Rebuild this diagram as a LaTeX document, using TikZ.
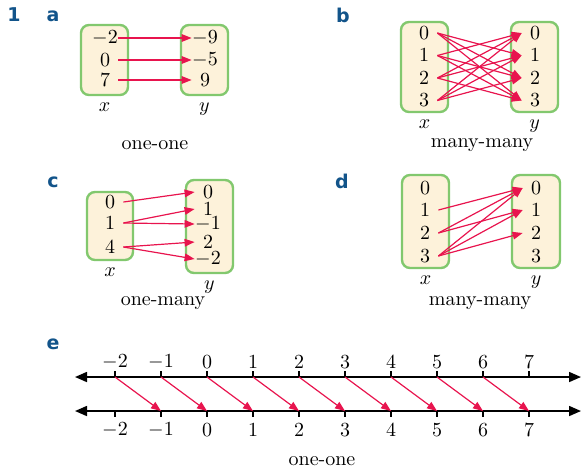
\documentclass[tikz,border=0pt]{standalone}
\usepackage{fontspec}
\newfontfamily\partfont{DejaVu Sans}
\usepackage{xcolor}
\definecolor{setfill}{RGB}{253,242,218}
\definecolor{setedge}{RGB}{130,200,110}
\definecolor{maparrow}{RGB}{232,20,78}
\definecolor{partblue}{RGB}{18,84,138}
\usetikzlibrary{arrows.meta, positioning}

\begin{document}
\begin{tikzpicture}[
    x=0.5pt, y=-0.5pt,
    every node/.style={align=center},
    setbox/.style={rectangle, draw=setedge, line width=1.2pt, rounded corners=4pt, fill=setfill, inner sep=0pt},
    entry/.style={inner sep=0pt, minimum width=13pt},
    part/.style={font=\partfont\bfseries\fontsize{9.5}{10}\selectfont, text=partblue},
    arrow/.style={-{Triangle[length=5pt, width=3.8pt]}, color=maparrow, line width=0.6pt},
    axis/.style={{Triangle[length=6pt, width=5pt]}-{Triangle[length=6pt, width=5pt]}, line width=0.8pt}
]
\useasboundingbox (0,0) rectangle (582,473);

% part labels
\node[part] (p1) at (14,15) {1};
\node[part] (pa) at (53,16) {a};
\node[part] (pb) at (343,15) {b};
\node[part] (pc) at (53,182) {c};
\node[part] (pd) at (342,181) {d};
\node[part] (pe) at (53,344) {e};

% a
\node[setbox, minimum width=23.5pt, minimum height=35pt] (ax) at (104.5,60) {};
\node[setbox, minimum width=23.5pt, minimum height=35pt] (ay) at (204.5,60) {};
\node[entry] (ax0) at (105,38) {$-2$};
\node[entry] (ax1) at (105,60) {$0$};
\node[entry] (ax2) at (105,80) {$7$};
\node[entry] (ay0) at (205,38) {$-9$};
\node[entry] (ay1) at (205,60) {$-5$};
\node[entry] (ay2) at (205,80) {$9$};
\node[below=0pt of ax] (axl) {$x$};
\node[below=0pt of ay] (ayl) {$y$};
\node (acap) at (155,145) {one-one};
\draw[arrow] (ax0) -- (ay0);
\draw[arrow] (ax1) -- (ay1);
\draw[arrow] (ax2) -- (ay2);

% b
\node[setbox, minimum width=23.5pt, minimum height=45pt] (bx) at (424.5,67) {};
\node[setbox, minimum width=23.5pt, minimum height=45pt] (by) at (534.5,67) {};
\foreach \v/\yy in {0/33,1/55.5,2/78,3/100.5} {
  \node[entry] (bx\v) at (424,\yy) {$\v$};
  \node[entry] (by\v) at (535,\yy) {$\v$};
}
\node[below=0pt of bx] (bxl) {$x$};
\node[below=0pt of by] (byl) {$y$};
\node (bcap) at (482,145) {many-many};
\foreach \i in {0,...,3}
  \foreach \j in {0,...,3} {
    \ifnum\i=\j\else \draw[arrow] (bx\i.east) -- (by\j.west); \fi
  }

% c
\node[setbox, minimum width=23pt, minimum height=34pt] (cx) at (110,226) {};
\node[setbox, minimum width=23.5pt, minimum height=46.5pt] (cy) at (209.5,226.5) {};
\node[entry] (cx0) at (110,202) {$0$};
\node[entry] (cx1) at (110,223) {$1$};
\node[entry] (cx4) at (110,247) {$4$};
\node[entry] (cy0) at (208,192) {$0$};
\node[entry] (cy1) at (208,209) {$1$};
\node[entry] (cym1) at (208,224) {$-1$};
\node[entry] (cy2) at (208,242) {$2$};
\node[entry] (cym2) at (208,259) {$-2$};
\node[below=0pt of cx] (cxl) {$x$};
\node[below=0pt of cy] (cyl) {$y$};
\node (ccap) at (163,303) {one-many};
\draw[arrow] (cx0.east) -- (cy0.west);
\draw[arrow] (cx1.east) -- (cy1.west);
\draw[arrow] (cx1.east) -- (cym1.west);
\draw[arrow] (cx4.east) -- (cy2.west);
\draw[arrow] (cx4.east) -- (cym2.west);

% d
\node[setbox, minimum width=23.5pt, minimum height=46.5pt] (dx) at (425.5,221.5) {};
\node[setbox, minimum width=24pt, minimum height=46.5pt] (dy) at (536,221.5) {};
\foreach \v/\yy in {0/188,1/210,2/233,3/256} {
  \node[entry] (dx\v) at (425,\yy) {$\v$};
  \node[entry] (dy\v) at (536,\yy) {$\v$};
}
\node[below=0pt of dx] (dxl) {$x$};
\node[below=0pt of dy] (dyl) {$y$};
\node (dcap) at (480,303) {many-many};
\draw[arrow] (dx1.east) -- (dy0.west);
\draw[arrow] (dx2.east) -- (dy0.west);
\draw[arrow] (dx2.east) -- (dy1.west);
\draw[arrow] (dx3.east) -- (dy0.west);
\draw[arrow] (dx3.east) -- (dy1.west);
\draw[arrow] (dx3.east) -- (dy2.west);

% e
\coordinate (tl) at (75,377);
\coordinate (tr) at (581,377);
\coordinate (bl) at (75,411);
\coordinate (br) at (581,411);
\draw[axis] (tl) -- (tr);
\draw[axis] (bl) -- (br);
\foreach \v [count=\i from 0] in {-2,...,7} {
  \coordinate (t\i) at ({115+46*\i},377);
  \coordinate (b\i) at ({115+46*\i},411);
  \draw[line width=0.8pt] (t\i) -- ++(0,-6);
  \draw[line width=0.8pt] (b\i) -- ++(0,6);
  \node (tn\i) at ({115+46*\i},362) {$\v$};
  \node (bn\i) at ({115+46*\i},430) {$\v$};
}
\foreach \i [evaluate=\i as \j using int(\i+1)] in {0,...,8}
  \draw[arrow] (t\i) -- (b\j);
\node (ecap) at (322,461) {one-one};
\end{tikzpicture}
\end{document}
